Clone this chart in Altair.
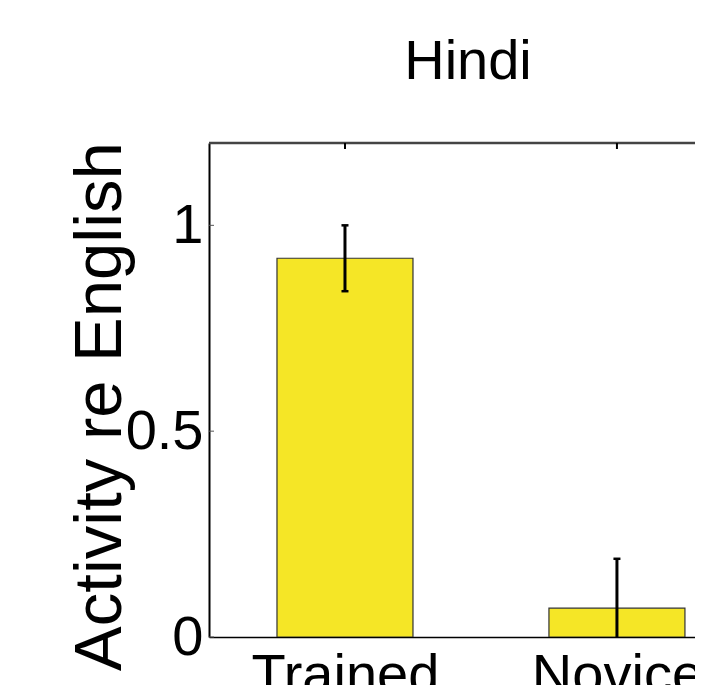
import altair as alt
import pandas as pd

# ---- data ----
groups = ["Trained", "Novice"]
positions = [1, 2]
means = [0.92, 0.07]
err_low = [0.84, -0.05]
err_high = [1.00, 0.19]
y_ticks = [0, 0.5, 1]
x_domain = [0.5, 2.287]
y_domain = [0, 1.2]

df = pd.DataFrame({"group": groups, "pos": positions, "mean": means,
                   "lo": err_low, "hi": err_high})
tick_df = pd.DataFrame({"v": y_ticks})
one_df = pd.DataFrame({"a": [0]})

W, H = 486, 494
REG = "Liberation Sans, Arial, Helvetica"

xs = alt.Scale(domain=x_domain, nice=False, zero=False, padding=0)
ys = alt.Scale(domain=y_domain, nice=False, zero=False, padding=0)

label_expr = "datum.value == 1 ? 'Trained' : (datum.value == 2 ? 'Novice' : '')"

x_axis = alt.Axis(values=positions, labelExpr=label_expr, title=None,
                  ticks=False, tickSize=0, grid=False, domain=True,
                  domainColor="black", domainWidth=1.5,
                  labelFont=REG, labelFontSize=56, labelColor="black",
                  labelPadding=11, labelOverlap=False, labelFlush=False,
                  labelLimit=0)
y_axis = alt.Axis(values=y_ticks, format="g", title="Activity re English",
                  ticks=False, tickSize=0, grid=False, domain=True,
                  domainColor="black", domainWidth=2,
                  labelFont=REG, labelFontSize=56, labelColor="black",
                  labelPadding=6, labelOverlap=False, labelLimit=0,
                  titleFont=REG, titleFontSize=67, titleFontWeight="normal",
                  titleColor="black", titleAngle=-90, titleAlign="center",
                  titleBaseline="alphabetic", titleX=-89, titleY=263,
                  titleLimit=0)

bars = alt.Chart(df).mark_bar(size=136, color="#F5E626", stroke="#333333",
                              strokeWidth=1.2, clip=True).encode(
    x=alt.X("pos:Q", scale=xs, axis=x_axis),
    y=alt.Y("mean:Q", scale=ys, axis=y_axis),
)

err = alt.Chart(df).mark_rule(color="black", strokeWidth=3, clip=True).encode(
    x=alt.X("pos:Q", scale=xs, axis=x_axis),
    y=alt.Y("lo:Q", scale=ys, axis=y_axis),
    y2="hi:Q",
)

caps = alt.Chart(df).transform_fold(["lo", "hi"], as_=["k", "val"]).mark_tick(
    orient="horizontal", size=7, thickness=2.5, color="black", opacity=1, clip=True
).encode(
    x=alt.X("pos:Q", scale=xs, axis=x_axis),
    y=alt.Y("val:Q", scale=ys, axis=y_axis),
)

left_ticks = alt.Chart(tick_df).mark_rule(color="#555555", strokeWidth=1).encode(
    y=alt.Y("v:Q", scale=ys, axis=y_axis),
    x=alt.value(0), x2=alt.value(5),
)

top_line = alt.Chart(one_df).mark_rule(color="#444444", strokeWidth=2.5).encode(
    y=alt.value(0), x=alt.value(0), x2=alt.value(W),
)

top_ticks = alt.Chart(df).mark_rule(color="black", strokeWidth=2).encode(
    x=alt.X("pos:Q", scale=xs, axis=x_axis),
    y=alt.value(0), y2=alt.value(6),
)

chart = alt.layer(bars, err, caps, left_ticks, top_line, top_ticks).properties(
    width=W, height=H,
    title=alt.TitleParams("Hindi", font=REG, fontSize=56, fontWeight="normal",
                          color="black", anchor="middle", dx=16, offset=7,
                          baseline="alphabetic"),
    padding={"left": 201, "top": 135, "right": 0, "bottom": 48},
    autosize=alt.AutoSizeParams(type="none"),
    background="white",
).configure_view(stroke=None)

chart.save("out.html", embed_options={"renderer": "svg", "actions": False})
